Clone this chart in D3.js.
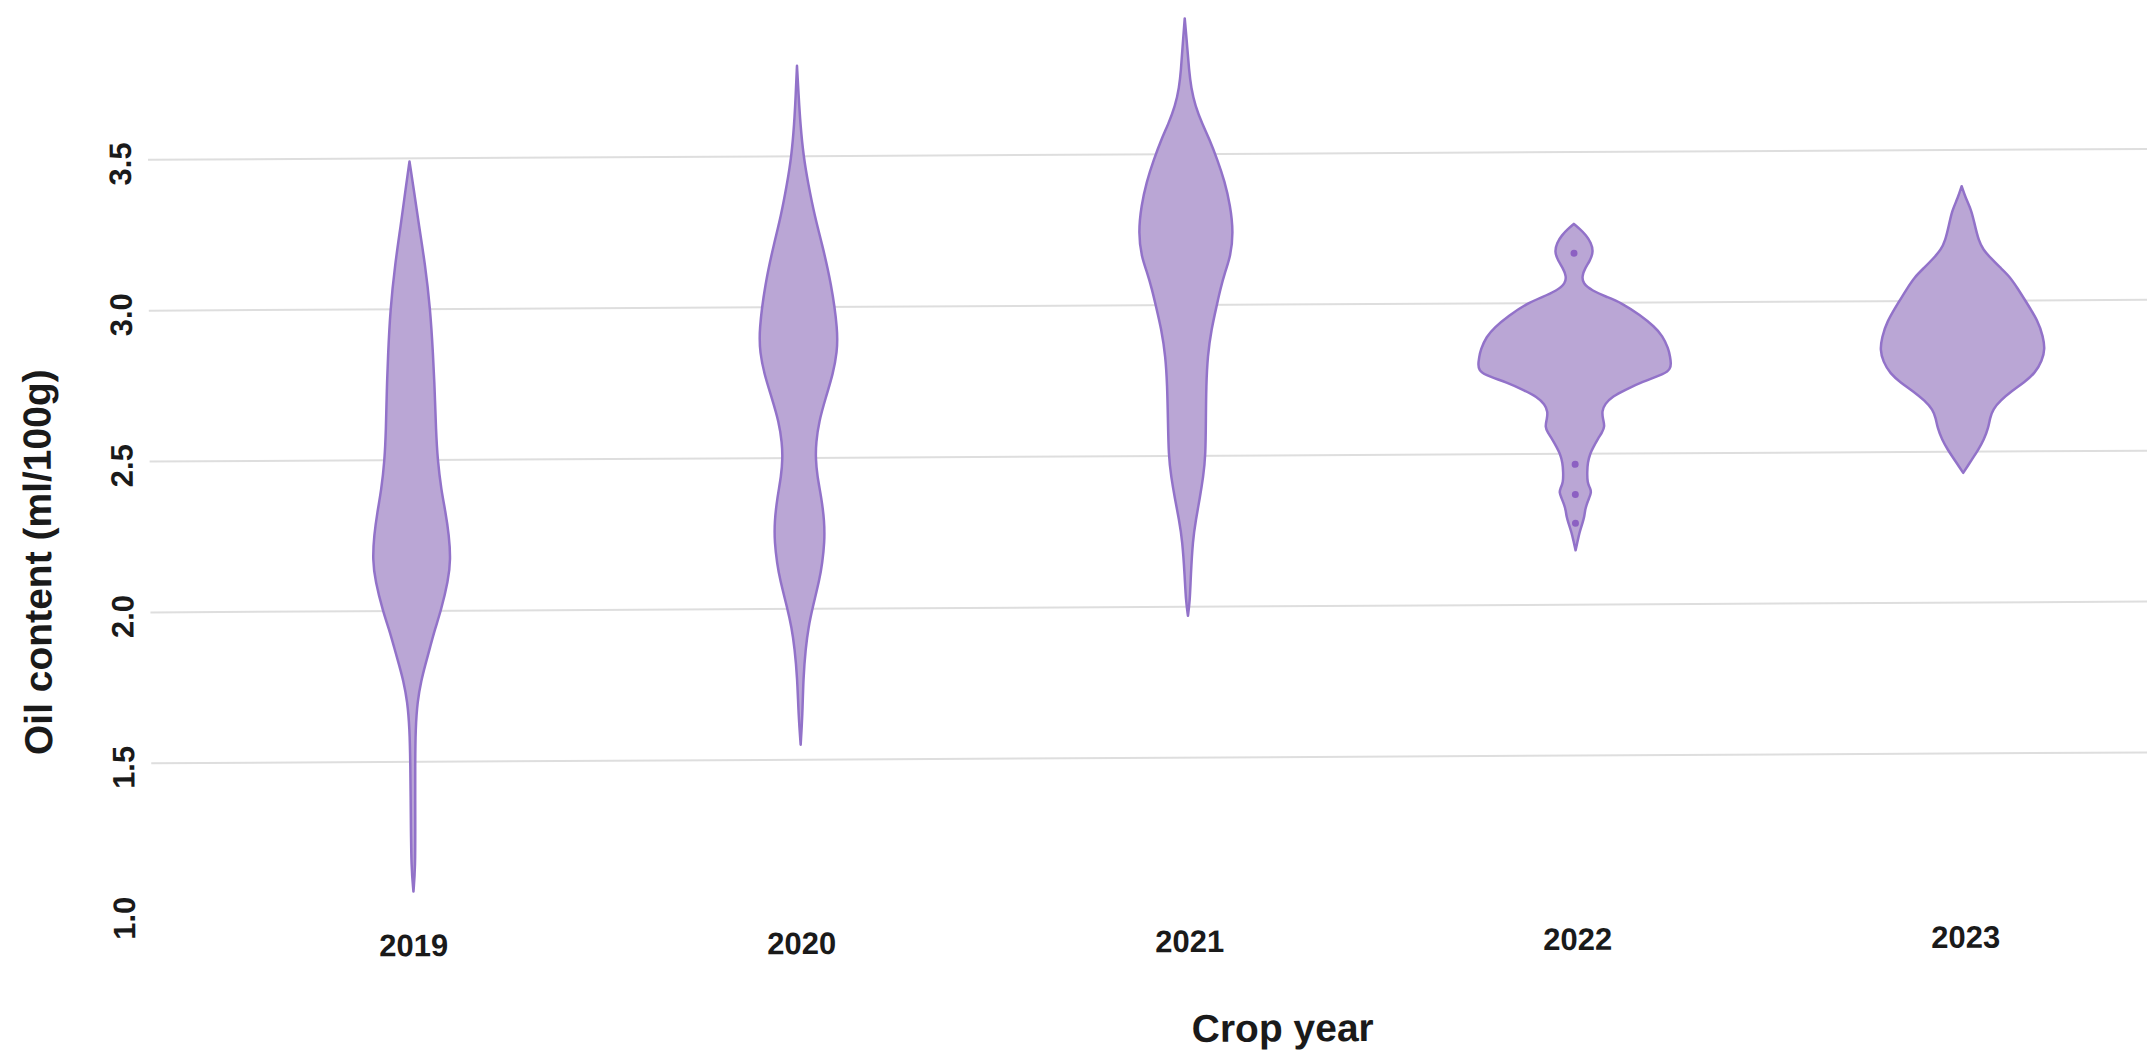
<!DOCTYPE html>
<html>
<head>
<meta charset="utf-8">
<script src="https://cdn.jsdelivr.net/npm/d3@7"></script>
<style>
  html, body { margin: 0; padding: 0; background: #ffffff; }
  svg { display: block; }
  text { font-family: "Liberation Sans", Arial, sans-serif; font-weight: bold; fill: #1a1a1a; }
</style>
</head>
<body>
<svg id="chart" width="2147" height="1054"></svg>
<script>
// Crop years on the x axis
const years = ["2019", "2020", "2021", "2022", "2023"];

// Kernel density profile of each year: oil content (ml/100g) and scaled density
const oil2019  = [3.49, 3.40, 3.28, 3.15, 3.00, 2.85, 2.73, 2.60, 2.50, 2.40, 2.33, 2.25, 2.17, 2.10, 2.00, 1.94, 1.88, 1.82, 1.77, 1.70, 1.61, 1.50, 1.30, 1.15, 1.07];
const dens2019 = [0.00, 0.04, 0.09, 0.15, 0.20, 0.225, 0.24, 0.25, 0.265, 0.30, 0.34, 0.375, 0.39, 0.365, 0.29, 0.23, 0.18, 0.13, 0.09, 0.05, 0.03, 0.024, 0.022, 0.02, 0.00];

const oil2020  = [3.80, 3.70, 3.61, 3.50, 3.41, 3.30, 3.21, 3.08, 2.92, 2.85, 2.78, 2.70, 2.62, 2.55, 2.50, 2.44, 2.37, 2.29, 2.22, 2.15, 2.10, 2.00, 1.94, 1.87, 1.77, 1.65, 1.55];
const dens2020 = [0.00, 0.015, 0.03, 0.06, 0.105, 0.17, 0.24, 0.33, 0.395, 0.385, 0.345, 0.27, 0.20, 0.17, 0.165, 0.18, 0.22, 0.25, 0.25, 0.225, 0.20, 0.124, 0.085, 0.055, 0.03, 0.02, 0.00];

const oil2021  = [3.95, 3.85, 3.78, 3.72, 3.66, 3.60, 3.55, 3.48, 3.41, 3.33, 3.24, 3.16, 3.11, 3.05, 3.00, 2.92, 2.83, 2.73, 2.63, 2.50, 2.43, 2.36, 2.29, 2.22, 2.10, 2.02, 1.97];
const dens2021 = [0.00, 0.025, 0.04, 0.06, 0.10, 0.17, 0.24, 0.32, 0.39, 0.445, 0.475, 0.445, 0.39, 0.34, 0.306, 0.25, 0.21, 0.195, 0.19, 0.185, 0.16, 0.125, 0.085, 0.052, 0.03, 0.02, 0.00];

const oil2022  = [3.262, 3.245, 3.225, 3.20, 3.17, 3.14, 3.115, 3.09, 3.065, 3.04, 3.02, 3.00, 2.958, 2.92, 2.89, 2.847, 2.82, 2.797, 2.78, 2.764, 2.737, 2.71, 2.69, 2.665, 2.64, 2.615, 2.59, 2.57, 2.55, 2.52, 2.50, 2.47, 2.44, 2.405, 2.385, 2.372, 2.355, 2.33, 2.31, 2.293, 2.27, 2.24, 2.21, 2.18];
const dens2022 = [0.00, 0.06, 0.12, 0.17, 0.195, 0.16, 0.11, 0.08, 0.085, 0.18, 0.32, 0.47, 0.66, 0.80, 0.88, 0.94, 0.955, 0.965, 0.955, 0.91, 0.67, 0.50, 0.38, 0.30, 0.27, 0.28, 0.30, 0.27, 0.23, 0.18, 0.15, 0.125, 0.12, 0.12, 0.15, 0.16, 0.14, 0.11, 0.095, 0.09, 0.07, 0.04, 0.02, 0.00];

const oil2023  = [3.38, 3.34, 3.30, 3.25, 3.20, 3.17, 3.14, 3.11, 3.08, 3.04, 3.00, 2.93, 2.88, 2.84, 2.80, 2.76, 2.73, 2.70, 2.67, 2.64, 2.61, 2.58, 2.54, 2.505, 2.48, 2.46, 2.43];
const dens2023 = [0.00, 0.04, 0.097, 0.13, 0.167, 0.21, 0.29, 0.38, 0.475, 0.555, 0.63, 0.76, 0.805, 0.825, 0.795, 0.725, 0.62, 0.49, 0.38, 0.30, 0.27, 0.255, 0.21, 0.15, 0.10, 0.06, 0.00];

// Outlying samples drawn as points (2022)
const outliers2022 = [3.165, 2.465, 2.365, 2.27];

// Axis ticks
const yTicks = [1.0, 1.5, 2.0, 2.5, 3.0, 3.5];
const gridValues = [1.5, 2.0, 2.5, 3.0, 3.5];

const profiles = [
  { year: "2019", oil: oil2019, dens: dens2019 },
  { year: "2020", oil: oil2020, dens: dens2020 },
  { year: "2021", oil: oil2021, dens: dens2021 },
  { year: "2022", oil: oil2022, dens: dens2022 },
  { year: "2023", oil: oil2023, dens: dens2023 }
];

const svg = d3.select("#chart");
svg.append("rect").attr("width", 2147).attr("height", 1054).attr("fill", "#ffffff");

// The whole figure sits at a slight tilt
const g = svg.append("g").attr("transform", "rotate(-0.31, 1000, 530)");

const x = d3.scalePoint().domain(years).range([411.5, 1963.5]);
const y = d3.scaleLinear().domain([1, 3.5]).range([909.5, 155.2]);
const w = d3.scaleLinear().domain([0, 1]).range([0, 100]);

// Horizontal grid lines
g.append("g").selectAll("line")
  .data(gridValues)
  .join("line")
  .attr("x1", 150).attr("x2", 2200)
  .attr("y1", d => y(d)).attr("y2", d => y(d))
  .attr("stroke", "#dedede")
  .attr("stroke-width", 2);

// Y tick labels (rotated)
g.append("g").selectAll("text")
  .data(yTicks)
  .join("text")
  .attr("transform", d => `translate(133, ${y(d) + 4}) rotate(-90)`)
  .attr("text-anchor", "middle")
  .attr("font-size", 31)
  .text(d => d.toFixed(1));

// X tick labels
g.append("g").selectAll("text")
  .data(years)
  .join("text")
  .attr("x", d => x(d))
  .attr("y", 953)
  .attr("text-anchor", "middle")
  .attr("font-size", 31)
  .text(d => d);

// Axis titles
g.append("text")
  .attr("x", 1280).attr("y", 1043)
  .attr("text-anchor", "middle")
  .attr("font-size", 39)
  .text("Crop year");

g.append("text")
  .attr("transform", "translate(51, 557) rotate(-90)")
  .attr("text-anchor", "middle")
  .attr("font-size", 39)
  .text("Oil content (ml/100g)");

// Violins
const violins = g.append("g");
profiles.forEach(p => {
  const cx = x(p.year);
  const pts = p.oil.map((v, i) => ({ v, d: p.dens[i] }));
  const area = d3.area()
    .curve(d3.curveBasis)
    .y(d => y(d.v))
    .x0(d => cx - w(d.d))
    .x1(d => cx + w(d.d));
  violins.append("path")
    .datum(pts)
    .attr("d", area)
    .attr("fill", "#baa6d5")
    .attr("stroke", "#9272c9")
    .attr("stroke-width", 2.5)
    .attr("stroke-linejoin", "round");
});

// Outlier points
violins.append("g").selectAll("circle")
  .data(outliers2022)
  .join("circle")
  .attr("cx", x("2022"))
  .attr("cy", d => y(d))
  .attr("r", 3.5)
  .attr("fill", "#8c60c2");
</script>
</body>
</html>
